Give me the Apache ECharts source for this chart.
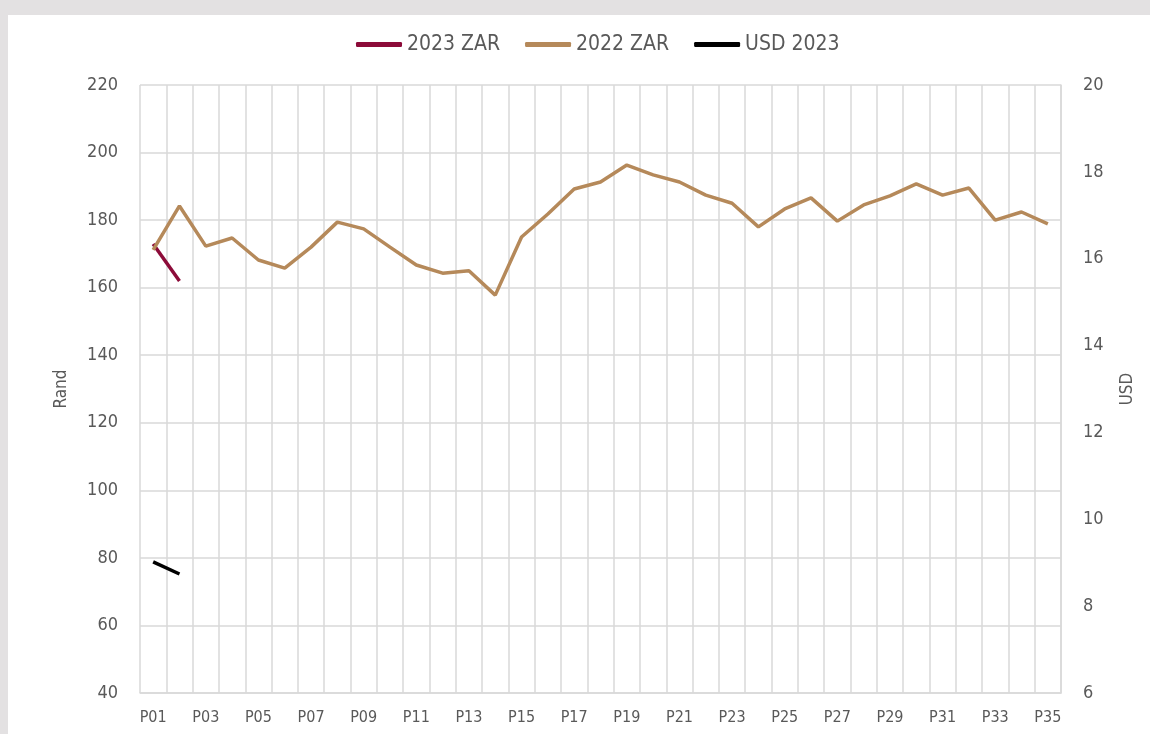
<!DOCTYPE html>
<html>
<head>
<meta charset="utf-8">
<script src="https://cdn.jsdelivr.net/npm/echarts@6/dist/echarts.min.js"></script>
<style>
  html, body { margin: 0; padding: 0; background: #e3e1e2; width: 1150px; height: 734px; overflow: hidden; }
  #main { position: absolute; left: 8px; top: 15px; width: 1142px; height: 719px; background: #fff; }
</style>
</head>
<body>
<div id="main"></div>
<script>
// periods P01..P35
var periods = [];
for (var i = 1; i <= 35; i++) periods.push('P' + (i < 10 ? '0' + i : i));

var zar2023 = [172.9, 162.0];
var zar2022 = [171.2, 184.2, 172.3, 174.7, 168.2, 165.8, 172.0, 179.4, 177.4, 172.0,
               166.7, 164.3, 165.0, 157.8, 175.0, 181.8, 189.2, 191.3, 196.3, 193.4,
               191.3, 187.4, 185.0, 178.0, 183.3, 186.6, 179.7, 184.5, 187.2, 190.7,
               187.4, 189.5, 180.0, 182.4, 178.9];
var usd2023 = [9.02, 8.74];

var font = "'Liberation Sans Narrow', 'DejaVu Sans Condensed', Roboto, sans-serif";
var grey = '#595959';

var chartDom = document.getElementById('main');
var myChart = echarts.init(chartDom);

var option = {
  animation: false,
  textStyle: { fontFamily: font },
  legend: {
    top: 14,
    left: 343,
    itemWidth: 46,
    itemHeight: 5,
    itemGap: 25,
    icon: 'roundRect',
    textStyle: { color: grey, fontSize: 21, fontFamily: font },
    data: ['2023 ZAR', '2022 ZAR', 'USD 2023']
  },
  grid: { left: 132, right: 89, top: 70, bottom: 41 },
  xAxis: {
    type: 'category',
    data: periods,
    boundaryGap: true,
    axisLine: { lineStyle: { color: '#d9d9d9', width: 1.5 } },
    axisTick: { show: false },
    axisLabel: { interval: 1, color: grey, fontSize: 16, margin: 17, fontFamily: font },
    splitLine: { show: true, interval: 0, lineStyle: { color: '#d9d9d9', width: 1.5 } }
  },
  yAxis: [
    {
      type: 'value',
      min: 40, max: 220, interval: 20,
      name: 'Rand',
      nameLocation: 'middle',
      nameGap: 70,
      nameTextStyle: { color: grey, fontSize: 17, fontFamily: font },
      axisLine: { show: false },
      axisTick: { show: false },
      axisLabel: { color: grey, fontSize: 18, margin: 22, fontFamily: font },
      splitLine: { lineStyle: { color: '#d9d9d9', width: 1.5 } }
    },
    {
      type: 'value',
      min: 6, max: 20, interval: 2,
      name: 'USD',
      nameLocation: 'middle',
      nameGap: 58,
      nameTextStyle: { color: grey, fontSize: 17, fontFamily: font },
      axisLine: { show: true, lineStyle: { color: '#d9d9d9', width: 1.5 } },
      axisTick: { show: false },
      axisLabel: { color: grey, fontSize: 18, margin: 22, fontFamily: font },
      splitLine: { show: false }
    }
  ],
  series: [
    {
      name: '2023 ZAR',
      type: 'line',
      data: zar2023,
      showSymbol: false,
      color: '#8c0b39',
      lineStyle: { width: 3.5 },
      z: 3
    },
    {
      name: '2022 ZAR',
      type: 'line',
      data: zar2022,
      showSymbol: false,
      color: '#b5895a',
      lineStyle: { width: 3.5 },
      z: 4
    },
    {
      name: 'USD 2023',
      type: 'line',
      yAxisIndex: 1,
      data: usd2023,
      showSymbol: false,
      color: '#000000',
      lineStyle: { width: 3.5 },
      z: 3
    }
  ]
};

myChart.setOption(option);
</script>
</body>
</html>
